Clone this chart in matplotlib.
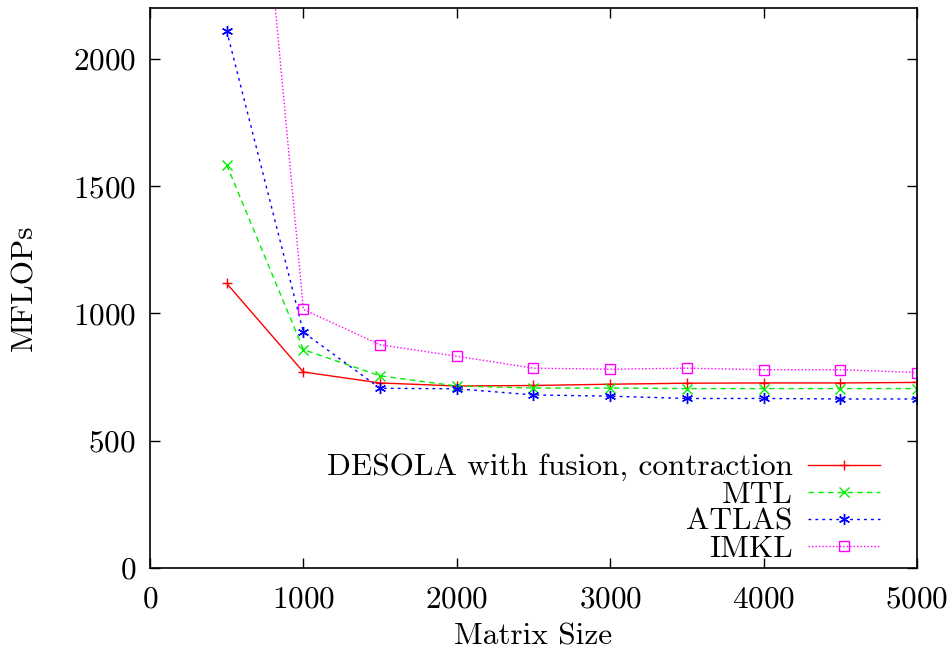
import matplotlib
matplotlib.use('Agg')
from matplotlib import pyplot as plt

# 数据
sizes = [500, 1000, 1500, 2000, 2500, 3000, 3500, 4000, 4500, 5000]
desola = [1118, 770, 727, 715, 717, 722, 726, 727, 727, 729]
mtl = [1584, 858, 755, 715, 707, 707, 705, 705, 705, 705]
atlas = [2110, 926, 706, 704, 680, 675, 666, 666, 664, 664]
imkl = [4250, 1016, 877, 832, 785, 781, 785, 779, 779, 768]

plt.rcParams['font.family'] = 'cmr10'
plt.rcParams['mathtext.fontset'] = 'cm'
plt.rcParams['axes.formatter.use_mathtext'] = True

fig = plt.figure(figsize=(9.53, 6.51), dpi=100)
ax = fig.add_axes([0.1574, 0.1275, 0.8048, 0.8602])

ax.plot(sizes, desola, color='red', linestyle='-', linewidth=1.0,
        marker='+', markersize=6.5, markeredgewidth=1.0,
        label='DESOLA with fusion, contraction')
ax.plot(sizes, mtl, color='#00ee00', linestyle=(0, (4, 3)), linewidth=1.0,
        marker='x', markersize=7, markeredgewidth=1.0, label='MTL')
ax.plot(sizes, atlas, color='blue', linestyle=(0, (2, 3)), linewidth=1.0,
        marker=(6, 2, 0), markersize=8, markeredgewidth=1.0, label='ATLAS')
ax.plot(sizes, imkl, color='magenta', linestyle=(0, (1, 1.5)), linewidth=1.0,
        marker='s', markersize=7, markerfacecolor='none', markeredgewidth=1.0,
        label='IMKL')

ax.set_xlim(0, 5000)
ax.set_ylim(0, 2200)
ax.set_xticks(range(0, 5001, 1000))
ax.set_yticks(range(0, 2001, 500))
ax.tick_params(direction='in', length=7, width=1, top=True, right=True,
               labelsize=22.5)
ax.tick_params(axis='x', pad=13)
ax.tick_params(axis='y', pad=10)
for s in ax.spines.values():
    s.set_linewidth(1.2)

# 坐标轴标题
ax.set_xlabel('Matrix Size', fontsize=22.5, labelpad=6)
ax.set_ylabel('MFLOPs', fontsize=22.5, labelpad=25)

leg = ax.legend(loc='lower right', markerfirst=False, frameon=False,
                fontsize=22.5, handlelength=2.3, handletextpad=0.5,
                labelspacing=-0.03, borderpad=0, borderaxespad=0,
                bbox_to_anchor=(0.952, 0.009))
for t in leg.get_texts():
    t.set_ha('right')

fig.savefig('out.png', dpi=100)
